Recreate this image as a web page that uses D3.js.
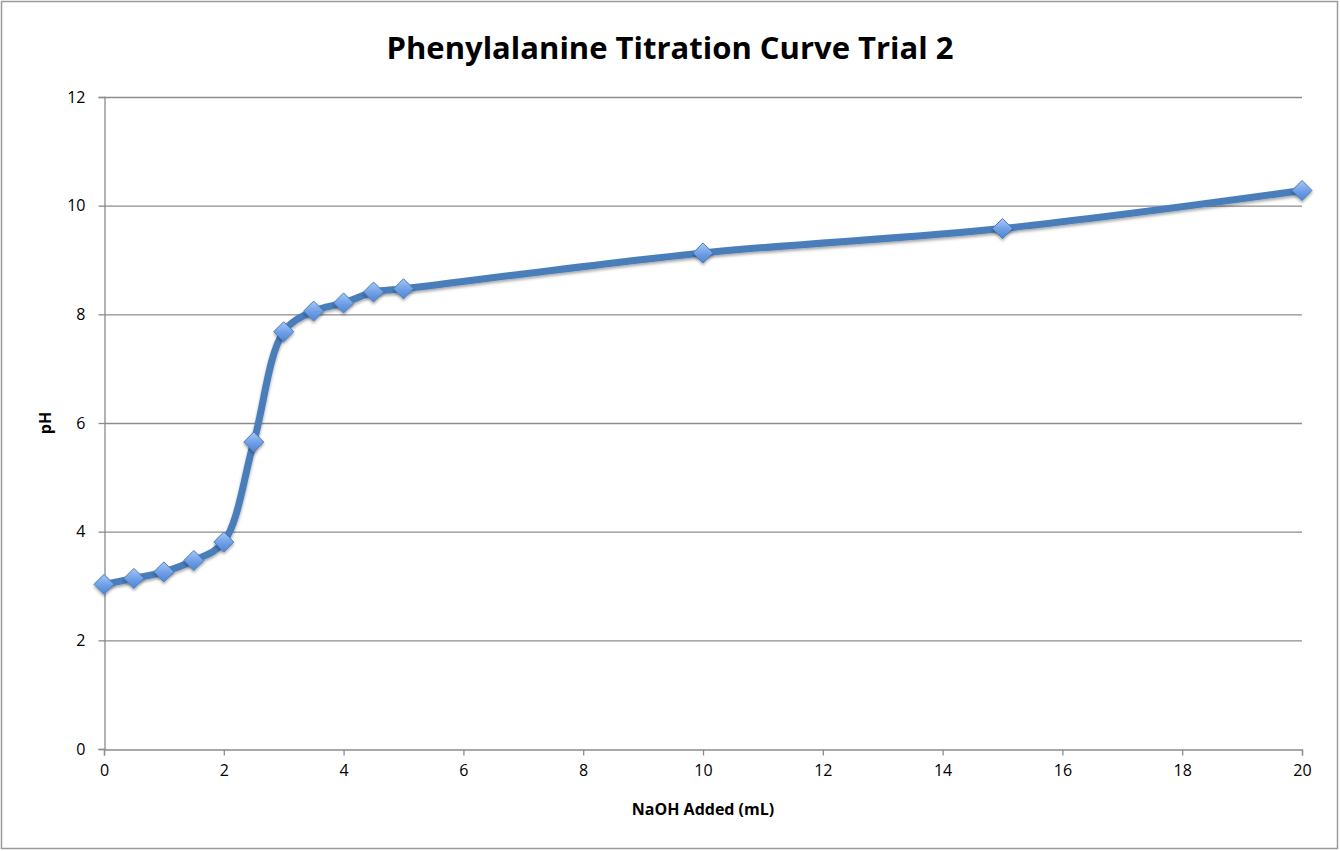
<html>
<head>
<title>Phenylalanine Titration Curve Trial 2</title>
<script src="https://cdnjs.cloudflare.com/ajax/libs/d3/7.8.5/d3.min.js"></script>
<style>
  body { margin: 0; background: #fff; }
  text { font-family: "Open Sans", "Liberation Sans", sans-serif; fill: #000; }
</style>
</head>
<body>
<svg id="chart" width="1340" height="851"></svg>
<script>
// data
var naohAdded = [0, 0.5, 1, 1.5, 2, 2.5, 3, 3.5, 4, 4.5, 5, 10, 15, 20];
var phValues = [3.03, 3.14, 3.26, 3.47, 3.81, 5.65, 7.68, 8.06, 8.21, 8.41, 8.47, 9.13, 9.58, 10.28];
var xTicks = [0, 2, 4, 6, 8, 10, 12, 14, 16, 18, 20];
var yTicks = [0, 2, 4, 6, 8, 10, 12];

var svg = d3.select('#chart');
var plotL = 104, plotR = 1302, plotT = 97, plotB = 749;

// outer frame
svg.append('rect')
    .attr('x', 1.5).attr('y', 1.5)
    .attr('width', 1336).attr('height', 847)
    .attr('fill', '#fff').attr('stroke', '#9a9a9a').attr('stroke-width', 1.5);

var defs = svg.append('defs');
var grad = defs.append('linearGradient').attr('id', 'mk')
    .attr('x1', 0).attr('y1', 0).attr('x2', 0).attr('y2', 1);
grad.append('stop').attr('offset', '0%').attr('stop-color', '#a9c8f5');
grad.append('stop').attr('offset', '55%').attr('stop-color', '#6d9ee6');
grad.append('stop').attr('offset', '100%').attr('stop-color', '#4f86d6');
var sh = defs.append('filter').attr('id', 'sh').attr('x', '-50%').attr('y', '-50%').attr('width', '200%').attr('height', '200%');
sh.append('feDropShadow').attr('dx', 0).attr('dy', 2).attr('stdDeviation', 1.5)
    .attr('flood-color', '#000').attr('flood-opacity', 0.35);

var x = d3.scaleLinear().domain([0, 20]).range([plotL, plotR]);
var y = d3.scaleLinear().domain([0, 12]).range([plotB, plotT]);

// gridlines
svg.append('g').selectAll('line').data(yTicks.filter(function (d) { return d > 0; }))
    .enter().append('line')
    .attr('x1', plotL).attr('x2', plotR)
    .attr('y1', function (d) { return y(d) + 0.5; })
    .attr('y2', function (d) { return y(d) + 0.5; })
    .attr('stroke', '#8c8c8c').attr('stroke-width', 1.3);

// axes
var xAxis = svg.append('g').attr('transform', 'translate(0,' + (plotB + 0.5) + ')')
    .call(d3.axisBottom(x).tickValues(xTicks).tickSize(6).tickPadding(9).tickFormat(d3.format('d')));
var yAxis = svg.append('g').attr('transform', 'translate(' + (plotL + 0.5) + ',0)')
    .call(d3.axisLeft(y).tickValues(yTicks).tickSize(6).tickPadding(13).tickFormat(d3.format('d')));
[xAxis, yAxis].forEach(function (a) {
    a.selectAll('path, line').attr('stroke', '#8c8c8c').attr('stroke-width', 1.3);
    a.selectAll('text').style('font-size', '16px').attr('fill', '#000')
        .style('font-family', '"Open Sans", "Liberation Sans", sans-serif');
});

// smoothed line
var pts = naohAdded.map(function (d, i) { return [d, phValues[i]]; });
var line = d3.line()
    .x(function (d) { return x(d[0]); })
    .y(function (d) { return y(d[1]); })
    .curve(d3.curveCatmullRom.alpha(0.5));
svg.append('path').datum(pts)
    .attr('d', line)
    .attr('fill', 'none')
    .attr('stroke', '#4a7ebb')
    .attr('stroke-width', 7)
    .attr('stroke-linejoin', 'round')
    .attr('stroke-linecap', 'round')
    .attr('filter', 'url(#sh)');

// diamond markers
svg.append('g').selectAll('path').data(pts).enter().append('path')
    .attr('transform', function (d) { return 'translate(' + x(d[0]) + ',' + y(d[1]) + ')'; })
    .attr('d', 'M0,-10L10,0L0,10L-10,0Z')
    .attr('fill', 'url(#mk)')
    .attr('stroke', '#4a7ebb')
    .attr('stroke-width', 1)
    .attr('filter', 'url(#sh)');

// titles
svg.append('text')
    .attr('x', 670).attr('y', 59)
    .attr('text-anchor', 'middle')
    .attr('font-size', 31).attr('font-weight', 'bold')
    .text('Phenylalanine Titration Curve Trial 2');
svg.append('text')
    .attr('x', 703).attr('y', 815)
    .attr('text-anchor', 'middle')
    .attr('font-size', 16).attr('font-weight', 'bold')
    .text('NaOH Added (mL)');
svg.append('text')
    .attr('transform', 'translate(51,423) rotate(-90)')
    .attr('text-anchor', 'middle')
    .attr('font-size', 16).attr('font-weight', 'bold')
    .text('pH');
</script>
</body>
</html>
